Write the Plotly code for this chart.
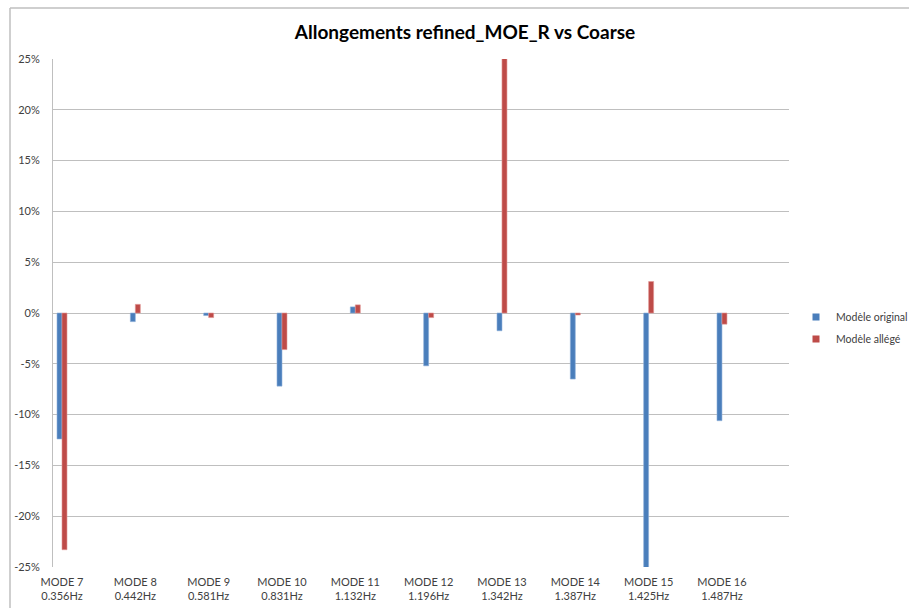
import plotly.graph_objects as go

modes = ["MODE 7", "MODE 8", "MODE 9", "MODE 10", "MODE 11", "MODE 12", "MODE 13", "MODE 14", "MODE 15", "MODE 16"]
freqs = ["0.356Hz", "0.442Hz", "0.581Hz", "0.831Hz", "1.132Hz", "1.196Hz", "1.342Hz", "1.387Hz", "1.425Hz", "1.487Hz"]
original = [-12.4, -0.85, -0.25, -7.2, 0.6, -5.2, -1.75, -6.5, -27.0, -10.6]
allege = [-23.3, 0.85, -0.45, -3.6, 0.8, -0.45, 27.0, -0.2, 3.1, -1.1]
series_names = ["Modèle original", "Modèle allégé"]
ytick_vals = [-25, -20, -15, -10, -5, 0, 5, 10, 15, 20, 25]
ytick_text = ["-25%", "-20%", "-15%", "-10%", "-5%", "0%", "5%", "10%", "15%", "20%", "25%"]

xpos = list(range(len(modes)))
xlabels = [f"{m}<br>{f}" for m, f in zip(modes, freqs)]

FONT = "Lato, Open Sans, sans-serif"
BLUE, RED = "#4a7ebb", "#be4b48"
bw = 0.068

fig = go.Figure()
fig.add_trace(go.Bar(x=xpos, y=original, name=series_names[0], width=bw, offset=-bw,
                     showlegend=False, legendgroup="a",
                     marker=dict(color=BLUE, line=dict(color="#8fb0da", width=0.6))))
fig.add_trace(go.Bar(x=xpos, y=allege, name=series_names[1], width=bw, offset=0,
                     showlegend=False, legendgroup="b",
                     marker=dict(color=RED, line=dict(color="#e09694", width=0.6))))
# legend entries with small square swatches
fig.add_trace(go.Scatter(x=[None], y=[None], mode="markers", name=series_names[0], legendgroup="a",
                         marker=dict(symbol="square", size=7, color=BLUE)))
fig.add_trace(go.Scatter(x=[None], y=[None], mode="markers", name=series_names[1], legendgroup="b",
                         marker=dict(symbol="square", size=7, color=RED)))

L, R, T, B = 53, 789, 59, 567
W, H = 909, 608
def px(x):
    return (x - L) / (R - L)
def py(y):
    return (B - y) / (B - T)

fig.update_layout(
    width=W, height=H,
    margin=dict(l=L, r=W - R, t=T, b=H - B, autoexpand=False),
    paper_bgcolor="white", plot_bgcolor="white",
    font=dict(family=FONT, size=11, color="#404040"),
    title=dict(text="<b>Allongements refined_MOE_R vs Coarse</b>", x=px(465), xanchor="center",
               xref="paper",
               y=1 - 32 / H, yanchor="middle",
               font=dict(family=FONT, size=19, color="#000000")),
    barmode="overlay",
    showlegend=True,
    legend=dict(x=px(796), xanchor="left", y=py(328), yanchor="middle",
                font=dict(family=FONT, size=10.5, color="#404040"),
                itemwidth=30, tracegroupgap=3, bgcolor="rgba(0,0,0,0)"),
    xaxis=dict(range=[-9 / 73.3, 9 + 67 / 73.3], tickmode="array", tickvals=xpos, ticktext=xlabels,
               showgrid=False, zeroline=False, showline=False, ticks="", automargin=False,
               ticklabelstandoff=7,
               tickfont=dict(family=FONT, size=11, color="#404040"), fixedrange=True),
    yaxis=dict(range=[-25, 25], tickmode="array", tickvals=ytick_vals, ticktext=ytick_text,
               showgrid=True, gridcolor="#bfbfbf", gridwidth=1, automargin=False,
               zeroline=True, zerolinecolor="#bfbfbf", zerolinewidth=1,
               showline=True, linecolor="#bfbfbf", linewidth=1, ticks="",
               ticklabelstandoff=10,
               tickfont=dict(family=FONT, size=11, color="#404040")),
    shapes=[
        dict(type="line", xref="paper", yref="paper", x0=px(10), x1=px(W), y0=py(8), y1=py(8),
             line=dict(color="#bfbfbf", width=1.5)),
        dict(type="line", xref="paper", yref="paper", x0=px(10), x1=px(10), y0=py(8), y1=py(H),
             line=dict(color="#bfbfbf", width=1.5)),
    ],
)

fig.write_html("out.html", config={"displayModeBar": False},
               post_script="document.body.style.margin='0';document.body.style.overflow='hidden';")
